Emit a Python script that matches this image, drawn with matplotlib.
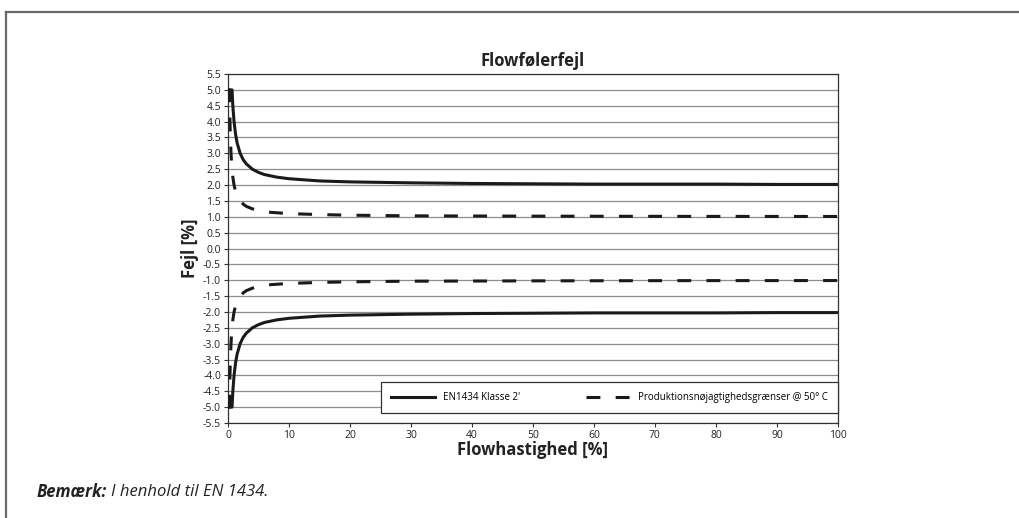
import numpy as np
import matplotlib
matplotlib.use("Agg")
import matplotlib.pyplot as plt
from matplotlib.lines import Line2D

plt.rcParams['font.family'] = ['Open Sans', 'DejaVu Sans']
plt.rcParams['lines.scale_dashes'] = False

# flow [%] and error limits [%]
flow_en = [0, 0.67, 0.8, 1, 1.25, 1.5, 2, 2.5, 3, 4, 5, 6, 8, 10, 15, 20, 30, 40, 50, 60, 70, 80, 90, 100]
err_en = [5.0, 5.0, 4.5, 4.0, 3.6, 3.33, 3.0, 2.8, 2.67, 2.5, 2.4, 2.33, 2.25, 2.2, 2.13, 2.1, 2.07, 2.05, 2.04, 2.03, 2.03, 2.03, 2.02, 2.02]

flow_prod = [0, 0.25, 0.3, 0.35, 0.4, 0.5, 0.6, 0.7, 0.8, 1, 1.25, 1.5, 2, 2.5, 3, 4, 5, 7, 10, 15, 20, 30, 40, 50, 60, 70, 80, 90, 100]
err_prod = [5.0, 5.0, 4.33, 3.86, 3.5, 3.0, 2.67, 2.43, 2.25, 2.0, 1.8, 1.67, 1.5, 1.4, 1.33, 1.25, 1.2, 1.14, 1.1, 1.07, 1.05, 1.03, 1.025, 1.02, 1.017, 1.014, 1.012, 1.011, 1.01]

x_ticks = np.arange(0, 101, 10)
y_ticks = np.arange(-5.5, 5.51, 0.5)

fig = plt.figure(figsize=(10.19, 5.18), dpi=100)
ax = fig.add_axes([0.2237, 0.1834, 0.5986, 0.6737])

ink = '#1a1a1a'
for sign in (1, -1):
    ax.plot(flow_en, [sign * v for v in err_en], color=ink, lw=2.2, solid_capstyle='butt', zorder=3)
    ax.plot(flow_prod, [sign * v for v in err_prod], color=ink, lw=2.2, dashes=(10, 11),
            dash_capstyle='butt', zorder=3)

ax.set_xlim(0, 100)
ax.set_ylim(-5.5, 5.5)
ax.set_xticks(x_ticks)
ax.set_yticks(y_ticks)
ax.set_yticklabels([f"{v:.1f}" for v in y_ticks])
ax.tick_params(axis='both', labelsize=7.5, length=3, width=0.8, color='#333333', pad=2,
               labelcolor='#222222')
ax.grid(axis='y', color='#8c8c8c', lw=0.9)
ax.set_axisbelow(True)
for s in ax.spines.values():
    s.set_color('#333333')
    s.set_linewidth(0.9)

ax.set_title("Flowfølerfejl", fontsize=12, fontweight='bold', pad=6, color='#222222')
ax.set_xlabel("Flowhastighed [%]", fontsize=12, fontweight='bold', labelpad=0, color='#222222')
ax.set_ylabel("Fejl [%]", fontsize=12, fontweight='bold', labelpad=3, color='#222222')

handles = [Line2D([], [], color=ink, lw=2.2),
           Line2D([], [], color=ink, lw=2.2, dashes=(10, 11))]
labels = ["EN1434 Klasse 2'", "Produktionsnøjagtighedsgrænser @ 50° C"]
leg = ax.legend(handles, labels, ncol=2, loc='lower left', mode='expand',
                bbox_to_anchor=(0.251, 0.029, 0.749, 0.083), fontsize=7,
                frameon=True, fancybox=False, borderaxespad=0, borderpad=1.0,
                handlelength=4.6, handletextpad=0.8, columnspacing=6)
leg.get_frame().set_edgecolor('#333333')
leg.get_frame().set_linewidth(0.9)
leg.get_frame().set_alpha(1)

# outer frame (top and left)
fig.add_artist(Line2D([6 / 1019, 1], [1 - 12 / 518, 1 - 12 / 518], transform=fig.transFigure,
                      color='#6a6a6a', lw=1.6))
fig.add_artist(Line2D([6 / 1019, 6 / 1019], [0, 1 - 12 / 518], transform=fig.transFigure,
                      color='#6a6a6a', lw=1.6))

note_y = 1 - 492 / 518
t1 = fig.text(37 / 1019, note_y, "Bemærk:", fontsize=12, fontweight='bold', style='italic',
              va='center', color='#222222')
fig.canvas.draw()
bb = t1.get_window_extent()
fig.text((bb.x1 + 4) / 1019, note_y, "I henhold til EN 1434.", fontsize=12, style='italic',
         va='center', color='#222222')

fig.savefig("out.png", dpi=100)
